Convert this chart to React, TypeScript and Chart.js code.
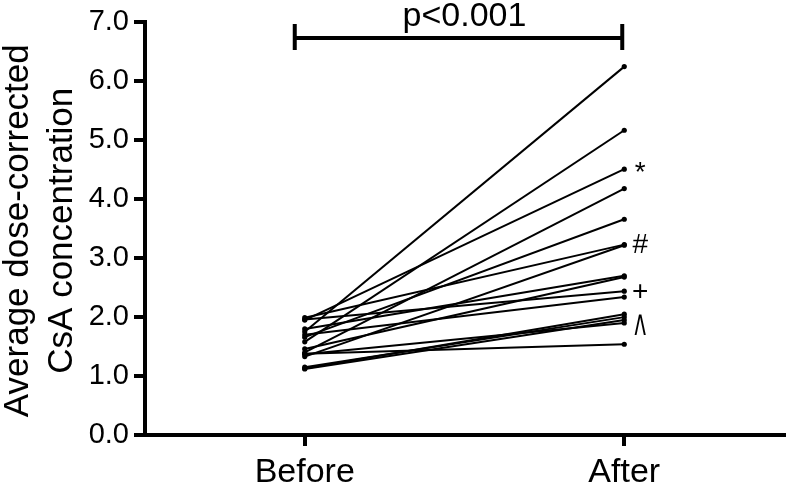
import React, { useEffect, useRef } from 'react';
import { Chart, registerables } from 'chart.js';

Chart.register(...registerables);

const categories = ['Before', 'After'];
const beforeValues = [1.75, 1.58, 1.95, 1.40, 1.66, 1.99, 1.33, 1.80, 1.46, 1.96, 1.70, 1.13, 1.15, 1.12, 1.37, 1.38];
const afterValues = [6.25, 5.17, 4.51, 4.18, 3.66, 3.23, 3.22, 2.70, 2.68, 2.44, 2.34, 2.05, 2.00, 1.95, 1.90, 1.54];
const yMin = 0;
const yMax = 7;
const yStep = 1;
const yTitleLines = ['Average dose-corrected', 'CsA concentration'];
const pLabel = 'p<0.001';
const markerLabels = ['*', '#', '+', '^'];
const markerSeries = [2, 5, 9, 12];

const FONT = '"Liberation Sans", Arial, Helvetica, sans-serif';

const overlayPlugin = {
  id: 'overlay',
  afterDraw(chart: any) {
    const { ctx, chartArea, scales } = chart;
    const x = scales.x;
    const y = scales.y;
    ctx.save();
    ctx.fillStyle = '#000';
    ctx.strokeStyle = '#000';

    // y-axis title (two lines)
    const cy = (chartArea.top + chartArea.bottom) / 2 + 2;
    ctx.font = `35px ${FONT}`;
    ctx.textAlign = 'center';
    ctx.textBaseline = 'alphabetic';
    const baselines = [28, 72];
    yTitleLines.forEach((line, i) => {
      ctx.save();
      ctx.translate(baselines[i], cy);
      ctx.rotate(-Math.PI / 2);
      ctx.fillText(line, 0, 0);
      ctx.restore();
    });

    // significance bracket
    const x0 = x.getPixelForValue(0) - 10;
    const x1 = x.getPixelForValue(1) - 2;
    ctx.lineWidth = 4;
    ctx.beginPath();
    ctx.moveTo(x0, 38);
    ctx.lineTo(x1, 38);
    ctx.moveTo(x0, 24);
    ctx.lineTo(x0, 50);
    ctx.moveTo(x1, 24);
    ctx.lineTo(x1, 50);
    ctx.stroke();
    ctx.font = `34px ${FONT}`;
    ctx.textAlign = 'center';
    ctx.textBaseline = 'alphabetic';
    ctx.fillText(pLabel, (x0 + x1) / 2 + 6, 26);

    // footnote markers
    const mx = x.getPixelForValue(1) + 16;
    markerLabels.forEach((lab, i) => {
      const py = y.getPixelForValue(afterValues[markerSeries[i]]);
      ctx.save();
      if (lab === '^') {
        ctx.translate(mx, py + 37);
        ctx.scale(0.45, 1.05);
        ctx.font = `54px ${FONT}`;
        ctx.textAlign = 'center';
        ctx.textBaseline = 'alphabetic';
        ctx.fillText(lab, 0, 0);
      } else {
        ctx.font = `28px ${FONT}`;
        ctx.textAlign = 'center';
        ctx.textBaseline = 'middle';
        const dy = lab === '*' ? 4 : 1;
        ctx.fillText(lab, mx, py + dy);
      }
      ctx.restore();
    });

    ctx.restore();
  },
};

export default function App() {
  const canvasRef = useRef<HTMLCanvasElement | null>(null);

  useEffect(() => {
    const canvas = canvasRef.current;
    if (!canvas) return;
    const datasets = beforeValues.map((b, i) => ({
      label: `Patient ${i + 1}`,
      data: [b, afterValues[i]],
      borderColor: '#000',
      backgroundColor: '#000',
      borderWidth: 2,
      pointRadius: 2.6,
      pointBorderWidth: 0,
      pointBackgroundColor: '#000',
      tension: 0,
      fill: false,
    }));
    const chart = new Chart(canvas, {
      type: 'line',
      data: { labels: categories, datasets },
      options: {
        animation: false,
        responsive: false,
        maintainAspectRatio: false,
        devicePixelRatio: 1,
        layout: { padding: { top: 13, right: 2, left: 0, bottom: 0 } },
        plugins: {
          legend: { display: false },
          tooltip: { enabled: false },
          title: { display: false },
        },
        scales: {
          x: {
            type: 'category',
            offset: true,
            grid: {
              display: true,
              offset: false,
              drawOnChartArea: false,
              drawTicks: true,
              tickLength: 11,
              lineWidth: 4,
              color: '#000',
            },
            border: { display: true, width: 4, color: '#000' },
            ticks: {
              color: '#000',
              padding: 6,
              font: { family: FONT, size: 34 },
              maxRotation: 0,
            },
            afterFit: (scale: any) => {
              scale.height = 52;
            },
          },
          y: {
            min: yMin,
            max: yMax,
            grid: {
              display: true,
              drawOnChartArea: false,
              drawTicks: true,
              tickLength: 11,
              lineWidth: 4,
              color: '#000',
            },
            border: { display: true, width: 4, color: '#000' },
            ticks: {
              stepSize: yStep,
              color: '#000',
              padding: 5,
              font: { family: FONT, size: 29 },
              callback: (v: any) => Number(v).toFixed(1),
            },
            afterFit: (scale: any) => {
              scale.width = 145;
            },
          },
        },
      },
      plugins: [overlayPlugin],
    });
    return () => chart.destroy();
  }, []);

  return (
    <div style={{ position: 'fixed', left: 0, top: 0, width: 788, height: 487, background: '#fff' }}>
      <canvas ref={canvasRef} width={788} height={487} style={{ width: 788, height: 487, display: 'block' }} />
    </div>
  );
}
